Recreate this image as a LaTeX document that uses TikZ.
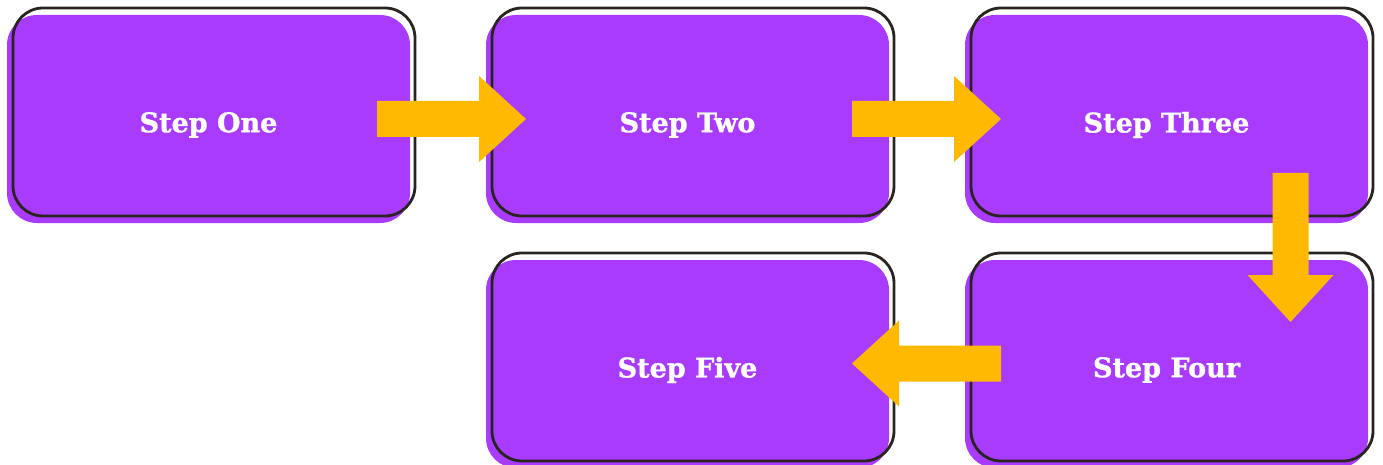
\documentclass[tikz,border=0pt]{standalone}
\usepackage{fontspec}
\setmainfont{DejaVu Serif}
\newfontfamily\lblfont[FakeBold=1.2]{DejaVu Serif Bold}
\definecolor{boxpurple}{HTML}{A93BFF}
\definecolor{arroworange}{HTML}{FFB900}
\definecolor{edgedark}{HTML}{2A2420}
\begin{document}
\begin{tikzpicture}[x=1pt,y=-1pt,
  fillbox/.style={rectangle, rounded corners=30pt, fill=boxpurple, minimum width=403pt, minimum height=208pt, inner sep=0pt},
  framebox/.style={rectangle, rounded corners=30pt, draw=edgedark, line width=2.8pt, minimum width=402pt, minimum height=208pt, inner sep=0pt},
  lbl/.style={text=white, inner sep=0pt, font=\lblfont\fontsize{27}{32}\selectfont},
  blockarrow/.pic={\fill[arroworange] (0,-18) -- (102,-18) -- (102,-43) -- (149,0) -- (102,43) -- (102,18) -- (0,18) -- cycle;}
]
\useasboundingbox (0,0) rectangle (1383,465);
% purple fills
\node[fillbox] (p1) at (208.5,119) {};
\node[fillbox] (p2) at (687.5,119) {};
\node[fillbox] (p3) at (1166.5,119) {};
\node[fillbox] (p4) at (1166.5,364) {};
\node[fillbox] (p5) at (687.5,364) {};
% outlines
\node[framebox] (f1) at ([xshift=5.5pt,yshift=7pt]p1.center) {};
\node[framebox] (f2) at ([xshift=5.5pt,yshift=7pt]p2.center) {};
\node[framebox] (f3) at ([xshift=5.5pt,yshift=7pt]p3.center) {};
\node[framebox] (f4) at ([xshift=5.5pt,yshift=7pt]p4.center) {};
\node[framebox] (f5) at ([xshift=5.5pt,yshift=7pt]p5.center) {};
% arrows
\coordinate (a1) at (377,119);
\coordinate (a2) at (852,119);
\coordinate (a3) at (1290.5,173);
\coordinate (a4) at (1001,363.5);
\pic at (a1) {blockarrow};
\pic at (a2) {blockarrow};
\pic[rotate=-90] at (a3) {blockarrow};
\pic[rotate=180] at (a4) {blockarrow};
% labels
\node[lbl] (t1) at ([yshift=-6pt]p1.center) {Step One};
\node[lbl] (t2) at ([yshift=-6pt]p2.center) {Step Two};
\node[lbl] (t3) at ([yshift=-6pt]p3.center) {Step Three};
\node[lbl] (t4) at ([yshift=-6pt]p4.center) {Step Four};
\node[lbl] (t5) at ([yshift=-6pt]p5.center) {Step Five};
\end{tikzpicture}
\end{document}
